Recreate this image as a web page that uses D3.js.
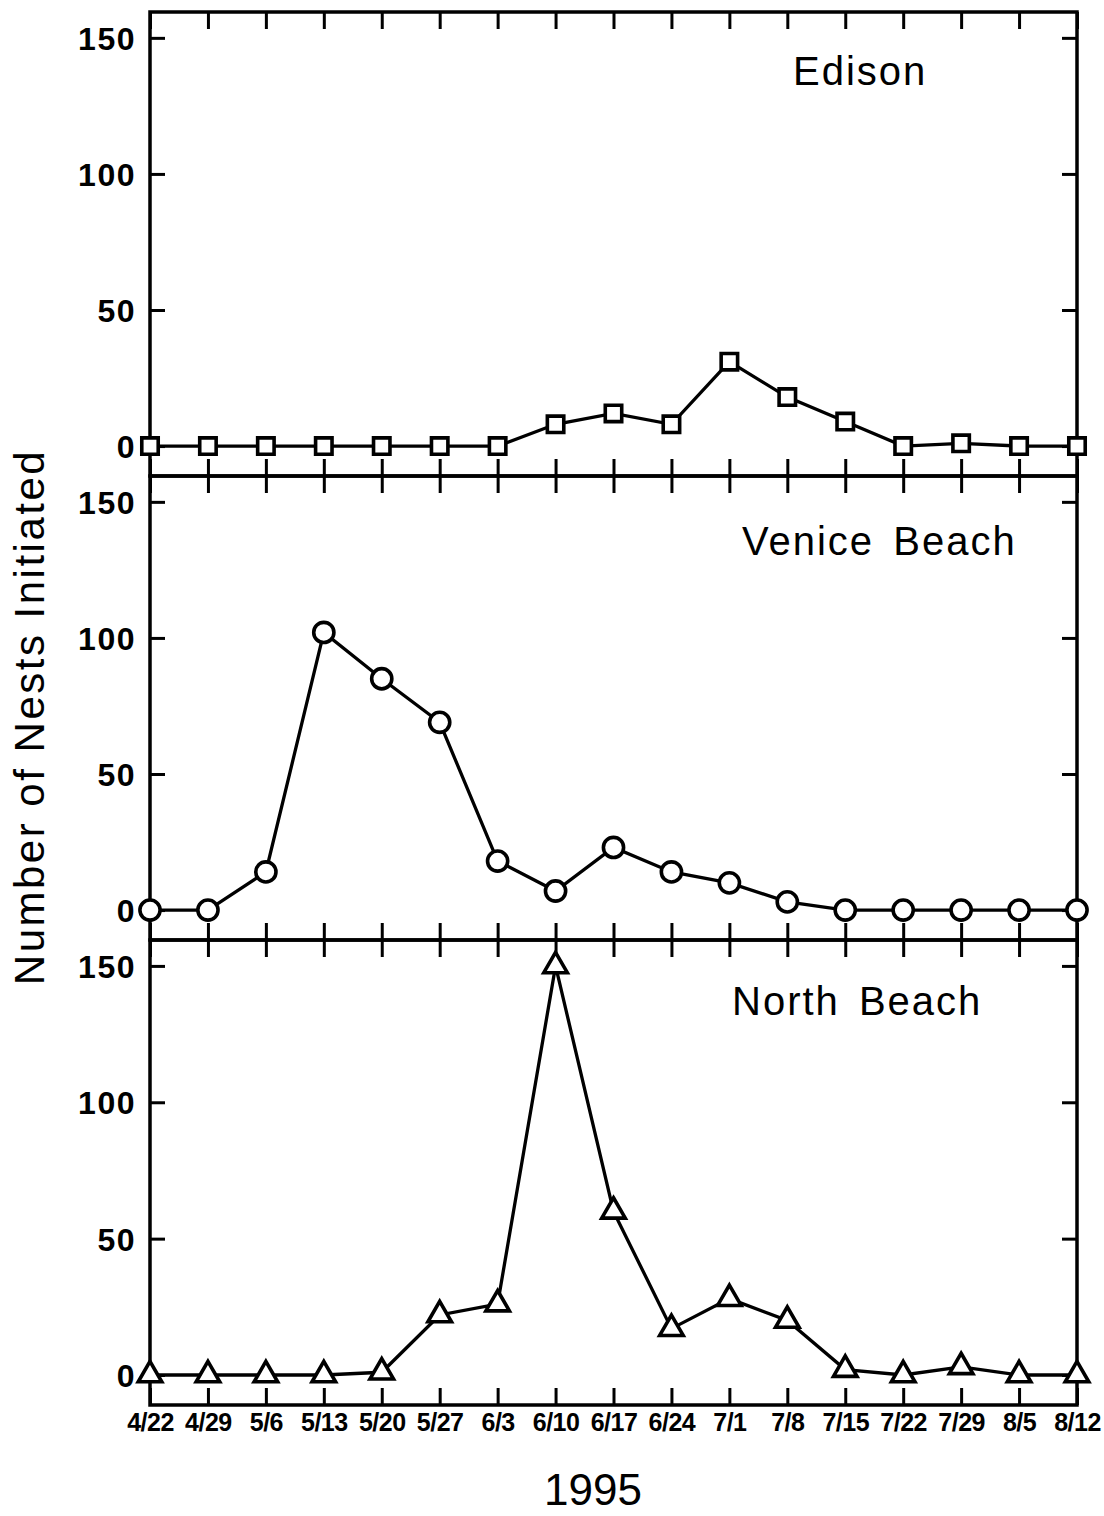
<!DOCTYPE html>
<html>
<head>
<meta charset="utf-8">
<script src="https://cdn.jsdelivr.net/npm/d3@7"></script>
<style>
  body { margin: 0; background: #fff; }
  svg { display: block; }
</style>
</head>
<body>
<div id="chart"></div>
<script>
var width = 1104;
var height = 1516;

// weekly dates, 1995
var dates = ["4/22","4/29","5/6","5/13","5/20","5/27","6/3","6/10","6/17",
             "6/24","7/1","7/8","7/15","7/22","7/29","8/5","8/12"];
var yTicks = [0, 50, 100, 150];

var edison  = [0,0,0,0,0,0,0,8,12,8,31,18,9,0,1,0,0];
var venice  = [0,0,14,102,85,69,18,7,23,14,10,3,0,0,0,0,0];
var north   = [0,0,0,0,1,22,26,150,60,17,28,20,2,0,3,0,0];

var panelNames = ["Edison", "Venice Beach", "North Beach"];

var left = 150, right = 1077;
var panels = [
    { name: panelNames[0], values: edison, top: 12,  bottom: 476,  symbol: d3.symbolSquare,   size: 270, tx: 793, ty: 85 },
    { name: panelNames[1], values: venice, top: 476, bottom: 940,  symbol: d3.symbolCircle,   size: 320, tx: 742, ty: 555 },
    { name: panelNames[2], values: north,  top: 940, bottom: 1405, symbol: d3.symbolTriangle, size: 240, tx: 732, ty: 1015 }
];

var svg = d3.select("#chart")
    .append("svg")
    .attr("width", width)
    .attr("height", height);

var x = d3.scalePoint()
    .domain(dates)
    .range([left, right]);

panels.forEach(function(p, idx){
    var y = d3.scaleLinear()
        .domain([-11, 159.5])
        .range([p.bottom, p.top]);

    var g = svg.append("g").attr("class", "panel");

    // inward ticks on all four sides
    g.append("g")
        .attr("transform", "translate(" + left + ",0)")
        .call(d3.axisLeft(y).tickValues(yTicks).tickSizeInner(-15).tickSizeOuter(0).tickPadding(14))
        .call(styleAxis)
        .selectAll("text")
            .attr("font-family", "Liberation Sans, Arial, sans-serif")
            .attr("font-size", 32)
            .attr("font-weight", "bold")
            .attr("letter-spacing", 1.5)
            .attr("dy", "0.36em");

    g.append("g")
        .attr("transform", "translate(" + right + ",0)")
        .call(d3.axisRight(y).tickValues(yTicks).tickSizeInner(-15).tickSizeOuter(0).tickFormat(""))
        .call(styleAxis);

    g.append("g")
        .attr("transform", "translate(0," + p.top + ")")
        .call(d3.axisTop(x).tickSizeInner(-17).tickSizeOuter(0).tickFormat(""))
        .call(styleAxis);

    var bottomAxis = g.append("g")
        .attr("transform", "translate(0," + p.bottom + ")")
        .call(d3.axisBottom(x).tickSizeInner(-17).tickSizeOuter(0).tickPadding(8)
            .tickFormat(idx === panels.length - 1 ? null : ""))
        .call(styleAxis);

    bottomAxis.selectAll("text")
        .attr("font-family", "Liberation Sans, Arial, sans-serif")
        .attr("font-size", 25)
        .attr("font-weight", "bold")
        .attr("letter-spacing", -0.5);

    // frame
    g.append("rect")
        .attr("x", left)
        .attr("y", p.top)
        .attr("width", right - left)
        .attr("height", p.bottom - p.top)
        .attr("fill", "none")
        .attr("stroke", "#000")
        .attr("stroke-width", 3.5);

    var line = d3.line()
        .x(function(d, i){ return x(dates[i]); })
        .y(function(d){ return y(d); });

    g.append("path")
        .datum(p.values)
        .attr("d", line)
        .attr("fill", "none")
        .attr("stroke", "#000")
        .attr("stroke-width", 3.3);

    g.append("g")
        .selectAll("path")
        .data(p.values)
        .enter()
            .append("path")
            .attr("d", d3.symbol().type(p.symbol).size(p.size))
            .attr("transform", function(d, i){
                return "translate(" + x(dates[i]) + "," + y(d) + ")";
            })
            .attr("fill", "#fff")
            .attr("stroke", "#000")
            .attr("stroke-width", 3.6);

    g.append("text")
        .attr("x", p.tx)
        .attr("y", p.ty)
        .attr("font-family", "Liberation Sans, Arial, sans-serif")
        .attr("font-size", 40)
        .attr("letter-spacing", 2)
        .attr("word-spacing", 6)
        .text(p.name);
});

function styleAxis(sel){
    sel.select(".domain").remove();
    sel.selectAll(".tick line")
        .attr("stroke", "#000")
        .attr("stroke-width", 3);
    sel.selectAll("text").attr("fill", "#000");
}

svg.append("text")
    .attr("transform", "translate(44,717) rotate(-90)")
    .attr("text-anchor", "middle")
    .attr("font-family", "Liberation Sans, Arial, sans-serif")
    .attr("font-size", 42)
    .attr("letter-spacing", 2.5)
    .text("Number of Nests Initiated");

svg.append("text")
    .attr("x", 593)
    .attr("y", 1505)
    .attr("text-anchor", "middle")
    .attr("font-family", "Liberation Sans, Arial, sans-serif")
    .attr("font-size", 44)
    .text("1995");
</script>
</body>
</html>
